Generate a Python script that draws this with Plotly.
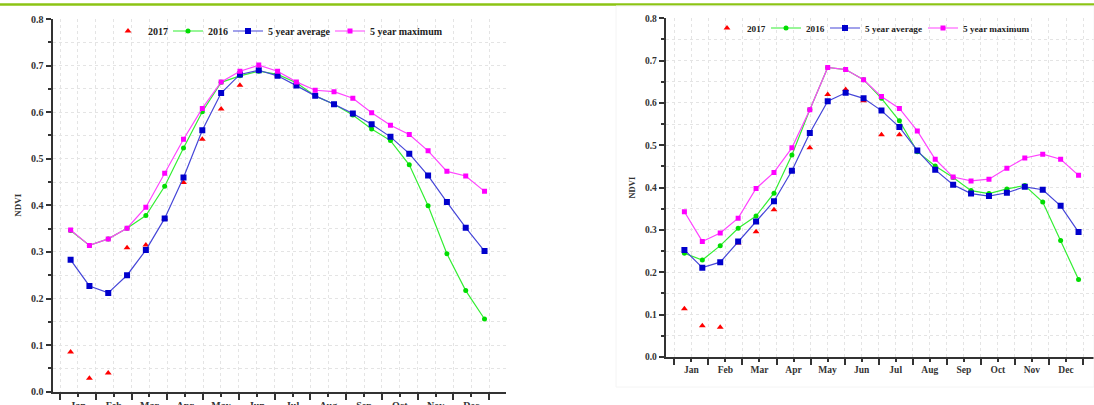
import plotly.graph_objects as go

# ---- data -------------------------------------------------------------
composite_start_doy = [1, 17, 33, 49, 65, 81, 97, 113, 129, 145, 161, 177,
                       193, 209, 225, 241, 257, 273, 289, 305, 321, 337, 353]
months = ["Jan", "Feb", "Mar", "Apr", "May", "Jun",
          "Jul", "Aug", "Sep", "Oct", "Nov", "Dec"]

# left panel
left_2017 = [0.085, 0.029, 0.040, 0.309, 0.315, 0.371, 0.449, 0.542, 0.607,
             0.658, 0.691, 0.678, 0.662]
left_2016 = [0.346, 0.314, 0.328, 0.351, 0.378, 0.441, 0.523, 0.601, 0.664,
             0.678, 0.688, 0.681, 0.663, 0.635, 0.617, 0.594, 0.564, 0.539,
             0.487, 0.399, 0.296, 0.217, 0.156]
left_avg = [0.283, 0.227, 0.212, 0.250, 0.304, 0.372, 0.460, 0.561, 0.641,
            0.681, 0.690, 0.678, 0.657, 0.635, 0.617, 0.597, 0.574, 0.547,
            0.511, 0.464, 0.407, 0.352, 0.302]
left_max = [0.347, 0.314, 0.328, 0.351, 0.396, 0.469, 0.542, 0.608, 0.665,
            0.688, 0.701, 0.688, 0.665, 0.647, 0.644, 0.630, 0.599, 0.572,
            0.552, 0.517, 0.473, 0.463, 0.430]

# right panel
right_2017 = [0.114, 0.074, 0.070, 0.269, 0.296, 0.348, 0.440, 0.494, 0.620,
              0.632, 0.605, 0.525, 0.525]
right_2016 = [0.245, 0.229, 0.263, 0.304, 0.333, 0.387, 0.477, 0.584, 0.684,
              0.679, 0.655, 0.611, 0.558, 0.485, 0.451, 0.424, 0.393, 0.386,
              0.397, 0.405, 0.366, 0.275, 0.183]
right_avg = [0.253, 0.211, 0.224, 0.273, 0.320, 0.368, 0.440, 0.529, 0.604,
             0.624, 0.611, 0.582, 0.543, 0.488, 0.442, 0.407, 0.386, 0.380,
             0.388, 0.402, 0.395, 0.357, 0.295]
right_max = [0.343, 0.273, 0.293, 0.328, 0.398, 0.436, 0.494, 0.584, 0.684,
             0.679, 0.655, 0.615, 0.587, 0.534, 0.467, 0.425, 0.416, 0.420,
             0.446, 0.470, 0.479, 0.467, 0.429]

series_names = ["2017", "2016", "5 year average", "5 year maximum"]

# ---- helpers -----------------------------------------------------------
x = [d + 8 for d in composite_start_doy]
month_len = 365 / 12
month_mid = [month_len * (i + 0.5) for i in range(12)]
month_edge = [month_len * i for i in range(13)]

FONT = "Liberation Serif"
GREEN, GREEN_L = "#00DD00", "#33EE33"
BLUE, BLUE_L = "#0000CC", "#4646D8"
MAG, MAG_L = "#FF00FF", "#FF44FF"
RED = "#FF0000"

fig = go.Figure()


def add_panel(xa, ya, legend, d2017, d2016, davg, dmax, lw):
    fig.add_trace(go.Scatter(
        x=x[:len(d2017)], y=d2017, mode="markers", name=series_names[0],
        marker=dict(symbol="triangle-up", size=6, color=RED),
        xaxis=xa, yaxis=ya, legend=legend, legendwidth=lw[0]))
    fig.add_trace(go.Scatter(
        x=x, y=d2016, mode="lines+markers", name=series_names[1],
        line=dict(color=GREEN_L, width=1.2),
        marker=dict(symbol="circle", size=5, color=GREEN),
        xaxis=xa, yaxis=ya, legend=legend, legendwidth=lw[1]))
    fig.add_trace(go.Scatter(
        x=x, y=davg, mode="lines+markers", name=series_names[2],
        line=dict(color=BLUE_L, width=1.2),
        marker=dict(symbol="square", size=6, color=BLUE),
        xaxis=xa, yaxis=ya, legend=legend, legendwidth=lw[2]))
    fig.add_trace(go.Scatter(
        x=x, y=dmax, mode="lines+markers", name=series_names[3],
        line=dict(color=MAG_L, width=1.2),
        marker=dict(symbol="square", size=5, color=MAG),
        xaxis=xa, yaxis=ya, legend=legend, legendwidth=lw[3]))


add_panel("x", "y", "legend", left_2017, left_2016, left_avg, left_max,
          [15, 15, 57, 72])
add_panel("x2", "y2", "legend2", right_2017, right_2016, right_avg, right_max,
          [14, 14, 53, 66])

GRID = "#E4E4E4"


def tfont(size):
    return dict(family=FONT, size=size, color="#333333", weight="bold")


def xaxis_cfg(domain, rng, anchor, fs):
    return dict(
        domain=domain, range=rng, anchor=anchor, tickmode="array",
        tickvals=month_mid, ticktext=months, ticks="outside", ticklen=3,
        tickwidth=1.5, tickcolor="#333333", tickfont=tfont(fs), showline=True,
        linecolor="#333333", linewidth=2, showgrid=True, gridcolor=GRID,
        griddash="dot", gridwidth=1, zeroline=False, automargin=False,
        minor=dict(tickmode="array", tickvals=month_edge, ticks="outside",
                   ticklen=6, tickwidth=2, tickcolor="#333333",
                   showgrid=True, gridcolor=GRID, griddash="dot"))


def yaxis_cfg(domain, anchor, fs):
    return dict(
        domain=domain, range=[0, 0.8], anchor=anchor, tickmode="array",
        tickvals=[0, 0.1, 0.2, 0.3, 0.4, 0.5, 0.6, 0.7, 0.8],
        ticktext=["0.0", "0.1", "0.2", "0.3", "0.4", "0.5", "0.6", "0.7", "0.8"],
        ticks="outside", ticklen=5, tickwidth=2, tickcolor="#333333",
        tickfont=tfont(fs), showline=True, linecolor="#333333", linewidth=2,
        showgrid=True, gridcolor=GRID, griddash="dot", zeroline=False,
        automargin=False,
        title=dict(text="NDVI", font=tfont(fs - 1), standoff=8),
        minor=dict(tickmode="array",
                   tickvals=[0.05, 0.15, 0.25, 0.35, 0.45, 0.55, 0.65, 0.75],
                   ticks="outside", ticklen=3, tickwidth=1.5,
                   tickcolor="#333333", showgrid=True, gridcolor=GRID,
                   griddash="dot"))


fig.update_layout(
    width=1094, height=405,
    margin=dict(l=0, r=0, t=0, b=0),
    paper_bgcolor="white", plot_bgcolor="white",
    xaxis=xaxis_cfg([52.5 / 1094, 505.7 / 1094], [-6.4, 379], "y", 10),
    yaxis=yaxis_cfg([(405 - 391.7) / 405, (405 - 19) / 405], "x", 10),
    xaxis2=xaxis_cfg([665.7 / 1094, 1.0], [-7.7, 374.8], "y2", 9.5),
    yaxis2=yaxis_cfg([(405 - 357) / 405, (405 - 18.3) / 405], "x2", 9.5),
    legend=dict(orientation="h", x=108 / 1094, xanchor="left",
                y=1 - 31 / 405, yanchor="middle",
                font=dict(family=FONT, size=10, color="#222222", weight="bold"),
                bgcolor="rgba(0,0,0,0)", itemwidth=30, tracegroupgap=0),
    legend2=dict(orientation="h", x=707 / 1094, xanchor="left",
                 y=1 - 28 / 405, yanchor="middle",
                 font=dict(family=FONT, size=9.2, color="#222222", weight="bold"),
                 bgcolor="rgba(0,0,0,0)", itemwidth=30, tracegroupgap=0),
    showlegend=True,
    shapes=[
        dict(type="line", xref="paper", yref="paper", x0=0, x1=1,
             y0=1 - 4.5 / 405, y1=1 - 4.5 / 405,
             line=dict(color="#8CC414", width=2.5)),
        dict(type="rect", xref="paper", yref="paper",
             x0=616 / 1094, x1=1, y0=(405 - 387) / 405, y1=1 - 6 / 405,
             line=dict(color="#F4F4F4", width=1)),
    ],
)

fig.write_html("out.html", config={"displayModeBar": False})

# remove the default page margin so the figure sits at the window origin
with open("out.html", encoding="utf-8") as f:
    html = f.read()
html = html.replace(
    "<head>",
    "<head><style>html,body{margin:0;padding:0;overflow:hidden;}</style>", 1)
with open("out.html", "w", encoding="utf-8") as f:
    f.write(html)
